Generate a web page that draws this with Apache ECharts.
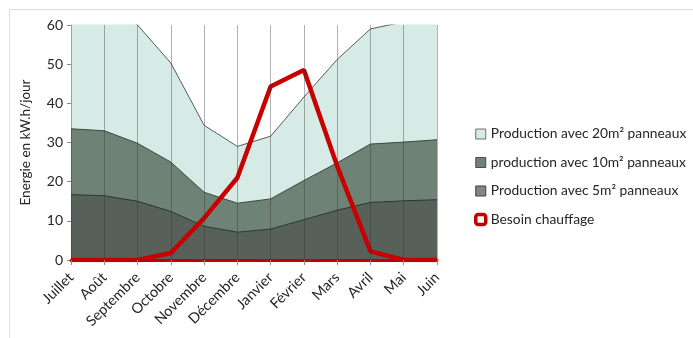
<!DOCTYPE html>
<html>
<head>
<meta charset="utf-8">
<script src="https://cdn.jsdelivr.net/npm/echarts@6/dist/echarts.min.js"></script>
<style>
  html, body { margin: 0; padding: 0; background: #fff; }
  #chart { width: 693px; height: 338px; }
</style>
</head>
<body>
<div id="chart"></div>
<script>
// données
const mois = ['Juillet', 'Août', 'Septembre', 'Octobre', 'Novembre', 'Décembre',
  'Janvier', 'Février', 'Mars', 'Avril', 'Mai', 'Juin']
const prod20 = [67, 66, 60, 50.3, 34.4, 29, 31.6, 41.6, 51.2, 59, 60.8, 61.6]
const prod10 = [33.5, 33, 29.8, 25, 17.3, 14.5, 15.6, 20.3, 24.8, 29.6, 30.1, 30.7]
const prod5 = [16.7, 16.4, 15, 12.4, 8.6, 7.1, 7.9, 10.3, 12.7, 14.7, 15.1, 15.4]
const besoin = [0, 0, 0, 1.8, 10.7, 21, 44.3, 48.5, 24, 2.2, 0, 0]
const yTicks = { min: 0, max: 60, interval: 10 }

const FONT = 'Lato'
const noms = ['Production avec 20m² panneaux', 'production avec 10m² panneaux',
  'Production avec 5m² panneaux', 'Besoin chauffage']

const chart = echarts.init(document.getElementById('chart'))

function aire(name, data, fill, line) {
  return {
    name: name,
    type: 'line',
    data: data,
    symbol: 'none',
    smooth: false,
    lineStyle: { color: line, width: 1 },
    itemStyle: { color: fill },
    areaStyle: { color: fill, opacity: 1 },
    z: 2
  }
}

const option = {
  animation: false,
  graphic: [{
    type: 'rect',
    shape: { x: 9.5, y: 9.5, width: 700, height: 340 },
    style: { fill: 'none', stroke: '#dcdcdc', lineWidth: 1 },
    silent: true
  }],
  grid: { left: 71, right: 256, top: 25, bottom: 78 },
  legend: {
    orient: 'vertical',
    left: 474,
    top: 127,
    padding: 0,
    itemWidth: 10,
    itemHeight: 10,
    itemGap: 14.5,
    textStyle: { fontFamily: FONT, fontSize: 13.8, color: '#262626' },
    data: [
      { name: noms[0], icon: 'rect', itemStyle: { color: '#d6ebe6', borderColor: '#6f6f6f', borderWidth: 1 } },
      { name: noms[1], icon: 'rect', itemStyle: { color: '#6f8276', borderColor: '#4a4a4a', borderWidth: 1 } },
      { name: noms[2], icon: 'rect', itemStyle: { color: '#7f8982', borderColor: '#3f3f3f', borderWidth: 1 } },
      { name: noms[3], icon: 'roundRect', itemStyle: { color: '#ffffff', borderColor: '#c00000', borderWidth: 3.5 } }
    ]
  },
  xAxis: {
    type: 'category',
    data: mois,
    boundaryGap: false,
    z: 5,
    axisLine: { show: true, lineStyle: { color: '#c00000', width: 3 } },
    axisTick: { show: true, length: 5, lineStyle: { color: '#8c8c8c' } },
    axisLabel: { rotate: 45, margin: 15, fontFamily: FONT, fontSize: 14.5, color: '#262626' },
    splitLine: { show: true, lineStyle: { color: 'rgba(50,50,50,0.38)', width: 1 } }
  },
  yAxis: {
    type: 'value',
    min: yTicks.min,
    max: yTicks.max,
    interval: yTicks.interval,
    name: 'Energie en kW.h/jour',
    nameLocation: 'middle',
    nameGap: 38,
    nameTextStyle: { fontFamily: FONT, fontSize: 13.5, color: '#262626' },
    axisLine: { show: true, lineStyle: { color: '#8c8c8c' } },
    axisTick: { show: true, length: 4, lineStyle: { color: '#8c8c8c' } },
    axisLabel: { margin: 8, fontFamily: FONT, fontSize: 14, color: '#262626' },
    splitLine: { show: false }
  },
  series: [
    aire(noms[0], prod20, '#d6ebe6', '#5a5a5a'),
    aire(noms[1], prod10, '#6f8276', '#3b4a41'),
    aire(noms[2], prod5, '#58605a', '#2b3830'),
    {
      name: noms[3],
      type: 'line',
      data: besoin,
      symbol: 'none',
      lineStyle: { color: '#c80000', width: 4.5 },
      itemStyle: { color: '#c80000' },
      z: 3
    }
  ]
}

chart.setOption(option)
</script>
</body>
</html>
